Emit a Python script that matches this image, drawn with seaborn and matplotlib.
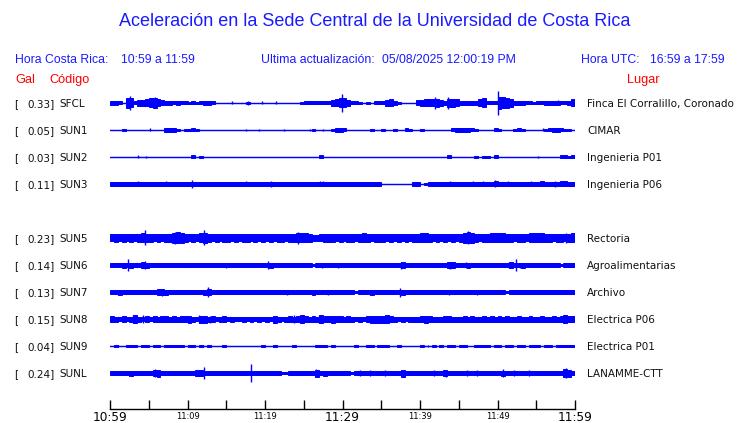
import numpy as np
import matplotlib
matplotlib.use("Agg")
import matplotlib.pyplot as plt
import matplotlib.transforms as mtransforms
import seaborn as sns

# ---------------- data ----------------
codes = ["SFCL", "SUN1", "SUN2", "SUN3", "SUN5", "SUN6", "SUN7", "SUN8", "SUN9", "SUNL"]
gal = [0.33, 0.05, 0.03, 0.11, 0.23, 0.14, 0.13, 0.15, 0.04, 0.24]
places = ["Finca El Corralillo, Coronado", "CIMAR", "Ingenieria P01", "Ingenieria P06",
          "Rectoria", "Agroalimentarias", "Archivo", "Electrica P06", "Electrica P01",
          "LANAMME-CTT"]
row_slot = [0, 1, 2, 3, 5, 6, 7, 8, 9, 10]

tick_minutes = [0, 5, 10, 15, 20, 25, 30, 35, 40, 45, 50, 55, 60]
tick_labels = ["10:59", "", "11:09", "", "11:19", "", "11:29", "", "11:39", "", "11:49", "", "11:59"]
big_labels = ["10:59", "11:29", "11:59"]

# envelope half-heights (px) per 30 s, 10:59 -> 11:59 (120 samples)
env_SFCL = [2, 2, 1.5, 0.5, 5, 4.5, 1.5, 3, 3, 3.5,
            4.5, 5, 3.5, 2.5, 2, 2, 1.5, 2, 1.5, 1.5,
            1, 1.5, 1, 1.5, 2, 2, 1.5, 0.5, 0.5, 0.5,
            0.5, 0.5, 0.5, 0.5, 0.5, 1, 0.5, 0.5, 0.5, 0.5,
            0.5, 0.5, 0.5, 0.5, 0.5, 0.5, 0.5, 0.5, 0.5, 1,
            1.5, 1.5, 1.5, 1.5, 1.5, 1.5, 1.5, 3, 3.5, 4.5,
            4.5, 3, 1.5, 1.5, 1, 0.5, 1, 0.5, 1.5, 1.5,
            1.5, 3, 3.5, 2, 1, 0.5, 0.5, 0.5, 0.5, 2.5,
            3, 3.5, 3.5, 3.5, 4, 3, 2, 4, 4, 3.5,
            2, 2, 2, 2, 2, 3.5, 4.5, 1.5, 1.5, 1.5,
            6, 5.5, 5, 4, 2, 2, 2, 1.5, 1.5, 1,
            1.5, 1.5, 2, 2, 2, 2, 1.5, 1.5, 2, 3.5]
env_SUN1 = [0.5, 0.5, 0.5, 1, 0.5, 0.5, 0.5, 0.5, 0.5, 0.5,
            0.5, 0.5, 0.5, 0.5, 2.3, 2.3, 2.3, 1, 0.5, 1,
            1, 1.5, 1, 0.5, 0.5, 0.5, 0.5, 0.5, 0.5, 0.5,
            0.5, 0.5, 0.5, 0.5, 0.5, 0.5, 0.5, 0.5, 0.5, 0.5,
            0.5, 0.5, 0.5, 0.5, 0.5, 0.5, 0.5, 0.5, 0.5, 0.5,
            0.5, 0.5, 1, 0.5, 0.5, 0.5, 0.5, 1, 2, 2,
            1.5, 0.5, 0.5, 0.5, 0.5, 0.5, 0.5, 1, 0.5, 0.5,
            1, 0.5, 0.5, 1, 0.5, 0.5, 1.5, 1, 0.5, 0.5,
            1, 0.5, 0.5, 0.5, 0.5, 0.5, 0.5, 0.5, 1.5, 2,
            2, 2, 2, 1.5, 1, 0.5, 0.5, 0.5, 0.5, 1.5,
            1, 0.5, 0.5, 0.5, 1, 1.5, 1, 0.5, 0.5, 0.5,
            0.5, 0.5, 1, 1.5, 2, 2, 1.5, 1, 1, 0.5]
env_SUN2 = [0.5, 0.5, 0.5, 0.5, 0.5, 0.5, 0.5, 0.5, 0.5, 0.5,
            0.5, 0.5, 0.5, 0.5, 0.5, 0.5, 0.5, 0.5, 0.5, 0.5,
            0.5, 1.5, 0.5, 1, 0.5, 0.5, 0.5, 0.5, 0.5, 0.5,
            0.5, 0.5, 0.5, 0.5, 0.5, 0.5, 0.5, 0.5, 0.5, 0.5,
            0.5, 0.5, 0.5, 0.5, 0.5, 0.5, 0.5, 0.5, 0.5, 0.5,
            0.5, 0.5, 0.5, 0.5, 1.5, 0.5, 0.5, 0.5, 0.5, 0.5,
            0.5, 0.5, 0.5, 0.5, 0.5, 0.5, 0.5, 0.5, 0.5, 0.5,
            0.5, 0.5, 0.5, 0.5, 0.5, 0.5, 0.5, 0.5, 0.5, 0.5,
            0.5, 0.5, 0.5, 0.5, 0.5, 0.5, 0.5, 1.5, 0.5, 0.5,
            0.5, 0.5, 0.5, 0.5, 1, 0.5, 1, 1, 0.5, 1.5,
            0.5, 0.5, 0.5, 0.5, 0.5, 0.5, 0.5, 0.5, 0.5, 0.5,
            0.5, 0.5, 0.5, 0.5, 0.5, 0.5, 1.5, 1.5, 1, 1.5]
env_SUN3 = [1.7, 1.7, 1.7, 1.7, 1.7, 1.7, 1.7, 1.7, 1.7, 1.7,
            1.7, 1.7, 1.7, 1.7, 1.7, 1.7, 1.7, 1.7, 1.7, 1.7,
            1.7, 1.7, 1.7, 1.7, 1.7, 1.7, 1.7, 1.7, 1.7, 1.7,
            1.7, 1.7, 1.7, 1.7, 1.7, 1.7, 1.7, 1.7, 1.7, 1.7,
            1.7, 1.7, 1.7, 1.7, 1.7, 1.7, 1.7, 1.7, 1.7, 1.7,
            1.7, 1.7, 1.7, 1.7, 1.7, 1.7, 1.7, 1.7, 1.7, 1.7,
            1.7, 1.7, 1.7, 1.7, 1.7, 1.7, 1.7, 1.7, 1.7, 1.7,
            0.5, 0.5, 0.5, 0.5, 0.5, 0.5, 0.5, 0.5, 1.7, 1.7,
            0.5, 1.2, 1.7, 1.7, 1.7, 1.7, 1.7, 1.7, 1.7, 1.7,
            1.7, 1.7, 1.7, 1.7, 1.7, 1.7, 1.7, 1.7, 1.7, 2.5,
            1.7, 1.7, 1.7, 1.7, 1.7, 1.7, 1.7, 1.7, 1.7, 1.7,
            1.7, 2.5, 1.7, 1.7, 1.7, 1.7, 2.5, 2.5, 1.7, 2]
env_SUN5 = [3.5, 4, 3.5, 4, 3.5, 4, 3.5, 4, 4.5, 4,
            4, 3.5, 4, 3.5, 4, 4, 5, 5.5, 5, 4,
            3.5, 4, 3.5, 4.5, 5, 4, 3.5, 4, 3.5, 4,
            4, 3.5, 4, 3.5, 4, 4, 3.5, 4, 3.5, 4,
            3.5, 4, 3.5, 4, 4, 3.5, 4, 4, 4.5, 4.5,
            4.5, 4, 3, 3, 3.5, 4, 4, 4, 3.5, 4,
            3.5, 4, 4, 3.5, 4, 4.5, 4, 3.5, 4, 4,
            4, 3.5, 4, 3.5, 4, 3.5, 4, 3.5, 4, 4,
            4.5, 4.5, 4, 3.5, 4, 3.5, 4, 3.5, 4, 3.5,
            4, 5, 5.5, 5, 4, 3.5, 4, 4, 4.5, 4.5,
            4.5, 4.5, 4, 4, 3.5, 4, 4, 3.5, 4.5, 4.5,
            4.5, 4.5, 4, 4, 3.5, 4, 4, 3.5, 4, 4.5]
env_SUN6 = [1.7, 1.7, 1.7, 2.5, 1.7, 2.5, 1.7, 1.7, 3, 2.5,
            1.7, 1.7, 1.7, 1.7, 1.7, 1.7, 2, 1.7, 1.7, 1.7,
            2, 1.7, 1.7, 1.7, 1.7, 1.7, 1.7, 1.7, 1.7, 2,
            1.7, 1.7, 1.7, 1.7, 1.7, 1.7, 1.7, 2, 1.7, 1.7,
            1.7, 2.5, 1.7, 1.7, 1.7, 1.7, 1.7, 1.7, 1.7, 1.7,
            1.7, 1.7, 1.2, 1.7, 2, 1.7, 1.7, 1.7, 1.7, 2,
            1.7, 2, 1.7, 1.7, 1.7, 1.7, 1.7, 2, 1.7, 1.7,
            1.7, 1.7, 1.7, 1.7, 1.7, 3, 1.7, 1.7, 1.7, 2,
            2, 1.7, 1.7, 1.7, 1.7, 1.7, 1.7, 3, 3, 1.7,
            1.7, 1.7, 2.5, 1.7, 1.7, 2, 1.7, 1.7, 1.7, 1.7,
            1.7, 1.7, 1.7, 3, 1.7, 2, 2.5, 1.7, 1.7, 1.7,
            1.7, 1.7, 1.7, 1.7, 1.7, 1.7, 1.2, 1.7, 1.7, 1.7]
env_SUN7 = [1.7, 1.7, 2.5, 1.7, 1.7, 1.7, 1.7, 1.7, 1.7, 1.7,
            1.7, 1.7, 3, 3, 2.5, 1.7, 1.7, 1.7, 1.7, 1.7,
            2, 1.7, 1.7, 1.7, 2.5, 3, 1.7, 1.7, 1.7, 2,
            1.7, 1.7, 1.7, 1.7, 1.7, 1.7, 1.7, 1.7, 1.7, 1.7,
            1.7, 1.7, 1.7, 1.7, 1.7, 1.7, 1.7, 1.7, 1.7, 1.7,
            2, 2, 2.5, 2, 1.7, 1.7, 2, 1.7, 1.7, 1.7,
            1.7, 1.7, 1.7, 1.2, 1.7, 1.7, 1.7, 2.5, 2, 1.7,
            2, 2, 1.7, 1.7, 1.7, 2.5, 2, 1.7, 1.7, 1.7,
            1.7, 1.7, 2, 1.7, 1.7, 1.7, 1.7, 1.7, 2, 1.7,
            1.7, 1.7, 1.7, 1.7, 1.7, 2, 1.7, 2, 2, 1.7,
            1.7, 1.7, 1.2, 1.7, 1.7, 1.7, 1.7, 1.7, 1.7, 1.7,
            1.7, 1.7, 1.7, 1.7, 1.7, 1.7, 1.7, 1.7, 1.7, 1.7]
env_SUN8 = [3, 2.5, 2.3, 3, 2.3, 2.5, 4, 2.5, 2.3, 3,
            2.3, 3, 2.5, 3, 3, 2.5, 3, 2.5, 3, 3,
            3.5, 2.5, 2.3, 3.5, 3.5, 2.5, 3, 2.3, 2.5, 3,
            2.3, 2.5, 2.3, 2.3, 2.5, 2.3, 2.5, 2.3, 2.5, 2.3,
            2.5, 2.3, 3.5, 2.5, 2.3, 2.5, 3, 2.5, 3, 4,
            3, 2.5, 3, 2.5, 4, 3, 3, 3.5, 3, 3,
            2.5, 3, 2.5, 2.3, 2.5, 2.3, 3, 3.5, 3.5, 3.5,
            3.5, 4, 3, 2.5, 2.3, 2.5, 2.3, 2.5, 2.5, 2.5,
            3, 3.5, 3, 2.5, 2.5, 2.5, 3, 3, 2.5, 2.5,
            2.5, 3, 2.5, 3, 2.5, 2.5, 3, 2.5, 3, 2.5,
            3, 2.5, 3, 2.5, 2.5, 3, 2.5, 2.5, 3, 2.5,
            2.5, 3, 2.5, 2.5, 3, 2.5, 3, 4, 3, 3]
env_SUN9 = [0.5, 1, 0.5, 0.5, 1, 1, 1, 0.5, 1, 1.3,
            0.5, 1, 1, 0.5, 1.3, 1.3, 1, 1, 1, 0.5,
            1, 1, 0.5, 1, 0.5, 1, 0.5, 0.5, 0.5, 1,
            0.5, 0.5, 0.5, 0.5, 0.5, 0.5, 0.5, 0.5, 0.5, 1,
            0.5, 0.5, 1.3, 0.5, 0.5, 0.5, 0.5, 1, 0.5, 0.5,
            0.5, 0.5, 0.5, 1.3, 1.3, 1.3, 0.5, 1, 0.5, 0.5,
            0.5, 0.5, 0.5, 1, 0.5, 0.5, 1, 1, 0.5, 1,
            1, 1, 0.5, 0.5, 1, 0.5, 0.5, 0.5, 0.5, 0.5,
            1.3, 0.5, 0.5, 1, 0.5, 1, 0.5, 1, 1, 0.5,
            1, 1, 0.5, 0.5, 1.3, 1.3, 1, 1, 0.5, 1,
            1, 0.5, 1, 1, 0.5, 1, 1, 0.5, 1, 1,
            1, 0.5, 1, 1, 0.5, 1, 1, 1.3, 1.3, 1.3]
env_SUNL = [1.7, 1.7, 1.7, 1.7, 1.7, 2.5, 2, 1.7, 1.7, 1.7,
            1.7, 3, 3.5, 1.7, 2, 1.7, 2, 1.7, 1.7, 1.7,
            1.7, 1.7, 3, 3, 2, 1.7, 1.7, 1.7, 1.7, 1.7,
            1.7, 1.7, 1.7, 1.7, 1.7, 1.7, 1.7, 1.7, 2, 2,
            1.7, 1.7, 1.7, 1.7, 1.2, 1.2, 1.7, 1.7, 1.7, 1.7,
            1.7, 1.7, 1.7, 3.5, 1.7, 2.5, 1.7, 1.7, 1.7, 1.7,
            1.7, 1.7, 1.2, 1.7, 1.7, 1.7, 1.7, 1.7, 1.7, 1.7,
            1.7, 1.7, 1.7, 1.7, 1.7, 3.5, 1.7, 1.7, 1.7, 1.7,
            1.7, 1.7, 1.7, 1.7, 1.7, 1.7, 3, 1.7, 1.7, 1.7,
            1.7, 1.7, 1.7, 1.7, 1.7, 1.7, 1.7, 2, 1.7, 1.7,
            1.7, 2.5, 1.7, 1.7, 1.7, 1.7, 1.7, 1.7, 1.7, 1.7,
            1.7, 1.7, 1.7, 1.7, 1.7, 1.7, 1.7, 4, 3.5, 1.7]

# isolated peaks: minute after 10:59 and half-height (px)
spk_SFCL_t = [2.6, 5.8, 15.7, 17.8, 19.6, 21.4, 29.9, 41.9, 43.6, 50.1, 57.8]
spk_SFCL_a = [6.7, 5.5, 1.5, 2, 1.5, 1.5, 8.7, 6, 6, 12, 2.5]
spk_SUN1_t = [5.2, 17.5, 19.2, 22.5, 25.8, 27.5, 33.7, 35.2, 40.0, 47.0, 55.9]
spk_SUN1_a = [1.5, 1, 1, 1, 1, 1, 1, 1, 1, 1, 1.5]
spk_SUN2_t = [3.6, 4.6, 47.2, 55.2]
spk_SUN2_a = [1.5, 1, 1, 1]
spk_SUN3_t = [3.6, 7.2, 10.6, 17.5, 20.8, 27.1, 27.5, 43.9, 46.8, 48.1, 49.7, 51.4, 54.3, 57.4]
spk_SUN3_a = [2.5, 2.5, 4.2, 2.5, 3, 2.5, 2.5, 2.5, 2.5, 2.5, 3.5, 2.5, 2.5, 3]
spk_SUN5_t = [4.5, 8.4, 12.1, 24.3, 46.2, 58.8]
spk_SUN5_a = [7.5, 6, 7.5, 6, 6.5, 5]
spk_SUN6_t = [2.3, 4.5, 15.0, 20.4, 27.4, 29.4, 37.5, 43.9, 45.9, 51.5, 52.4, 52.9]
spk_SUN6_a = [6, 4, 2.5, 4, 2.5, 2.5, 3.5, 3.5, 3, 3, 6, 2.5]
spk_SUN7_t = [1.0, 6.7, 12.6, 14.5, 22.8, 28.1, 33.5, 37.4, 43.7, 47.4, 53.7, 57.5]
spk_SUN7_a = [2.5, 3.5, 5.3, 2, 2.5, 2.5, 2.5, 4.5, 2.5, 2.5, 2, 2]
spk_SUN8_t = [3.0, 4.3, 11.5, 12.9, 23.7, 27.0, 35.9, 58.6]
spk_SUN8_a = [4.5, 4, 4, 3.5, 4, 4.5, 3.5, 4.5]
spk_SUN9_t = [1.0, 12.0, 41.0]
spk_SUN9_a = [1.2, 1.2, 1.2]
spk_SUNL_t = [5.8, 12.1, 18.2, 26.6, 32.3, 33.5, 35.5, 37.7, 41.8, 43.4, 46.1, 47.4, 50.7, 52.1, 54.1, 58.8]
spk_SUNL_a = [4, 5.8, 9.5, 4, 2.5, 2.5, 2.5, 3.5, 2.5, 3.5, 2.5, 2.5, 4, 2.5, 2.5, 5]

envelopes = {"SFCL": env_SFCL, "SUN1": env_SUN1, "SUN2": env_SUN2, "SUN3": env_SUN3,
             "SUN5": env_SUN5, "SUN6": env_SUN6, "SUN7": env_SUN7, "SUN8": env_SUN8,
             "SUN9": env_SUN9, "SUNL": env_SUNL}
spikes = {"SFCL": (spk_SFCL_t, spk_SFCL_a), "SUN1": (spk_SUN1_t, spk_SUN1_a),
          "SUN2": (spk_SUN2_t, spk_SUN2_a), "SUN3": (spk_SUN3_t, spk_SUN3_a),
          "SUN5": (spk_SUN5_t, spk_SUN5_a), "SUN6": (spk_SUN6_t, spk_SUN6_a),
          "SUN7": (spk_SUN7_t, spk_SUN7_a), "SUN8": (spk_SUN8_t, spk_SUN8_a),
          "SUN9": (spk_SUN9_t, spk_SUN9_a), "SUNL": (spk_SUNL_t, spk_SUNL_a)}

# ---------------- style ----------------
sns.set_theme(style="white")
plt.rcParams["font.family"] = ["DejaVu Sans"]

BLUE = "#0000ff"
HEAD = "#1a1aff"
RED = "#ff0000"
W, H = 740, 423
ROW_PX = 27.0

fig = plt.figure(figsize=(W / 100, H / 100), dpi=100)
fig.patch.set_facecolor("white")
ax = fig.add_axes([110 / W, 1 - 409 / H, 465 / W, 321 / H])
ax.set_facecolor("white")

for k, code in enumerate(codes):
    y0 = -row_slot[k]
    sns.lineplot(x=[0, 60], y=[y0, y0], ax=ax, color=BLUE, lw=1.05)
    env = np.asarray(envelopes[code], dtype=float)
    t0 = np.arange(len(env)) * 0.5
    m = env > 0.6
    h = env[m] / ROW_PX
    ax.bar(t0[m], 2 * h, bottom=y0 - h, width=0.5, align="edge",
           color=BLUE, edgecolor=BLUE, linewidth=0.7)
    st, sa = spikes[code]
    sa = np.asarray(sa, dtype=float) / ROW_PX
    ax.vlines(st, y0 - sa, y0 + sa, color=BLUE, lw=1.0)

ax.set_xlim(0, 60)
ax.set_ylim(-(409 - 103) / ROW_PX, 15 / ROW_PX)
for s in ["top", "left", "right"]:
    ax.spines[s].set_visible(False)
ax.spines["bottom"].set_color("black")
ax.spines["bottom"].set_linewidth(1.0)
ax.set_yticks([])
ax.set_xticks(tick_minutes)
ax.set_xticklabels([""] * len(tick_minutes))
ax.tick_params(axis="x", direction="in", length=6.5, width=1.0, color="black", bottom=True)
ax.set_xlabel("")
ax.set_ylabel("")

# time labels under the axis (x in data minutes, y in figure pixels)
tblend = mtransforms.blended_transform_factory(ax.transData, fig.transFigure)
for tm, txt in zip(tick_minutes, tick_labels):
    if not txt:
        continue
    if txt in big_labels:
        ax.text(tm, 1 - 421 / H, txt, ha="center", va="baseline", fontsize=8.7,
                color="black", transform=tblend, clip_on=False)
    else:
        ax.text(tm, 1 - 418.5 / H, txt, ha="center", va="baseline", fontsize=6,
                color="black", transform=tblend, clip_on=False)

# ---------------- texts ----------------
def fx(px):
    return px / W

def fy(py):
    return 1 - py / H

fig.text(fx(375), fy(22), "Aceleración en la Sede Central de la Universidad de Costa Rica",
         ha="center", va="center", color=HEAD, fontsize=13, family="Liberation Sans")
hdr = dict(va="center", color=HEAD, fontsize=8.8, family="Liberation Sans")
fig.text(fx(15), fy(60), "Hora Costa Rica:", ha="left", **hdr)
fig.text(fx(121), fy(60), "10:59 a 11:59", ha="left", **hdr)
fig.text(fx(261), fy(60), "Ultima actualización:", ha="left", **hdr)
fig.text(fx(382), fy(60), "05/08/2025 12:00:19 PM", ha="left", **hdr)
fig.text(fx(581), fy(60), "Hora UTC:", ha="left", **hdr)
fig.text(fx(725), fy(60), "16:59 a 17:59", ha="right", **hdr)
red = dict(va="center", color=RED, fontsize=9.2, family="Liberation Sans")
fig.text(fx(15), fy(80), "Gal", ha="left", **red)
fig.text(fx(90), fy(80), "Código", ha="right", **red)
fig.text(fx(660), fy(80), "Lugar", ha="right", **red)

blend = mtransforms.blended_transform_factory(fig.transFigure, ax.transData)
lab = dict(va="center_baseline", color="#111111", fontsize=7.5, family="DejaVu Sans")
for k, code in enumerate(codes):
    y0 = -row_slot[k]
    ax.text(fx(14), y0, "[", ha="left", transform=blend, **lab)
    ax.text(fx(55), y0, f"{gal[k]:.2f}]", ha="right", transform=blend, **lab)
    ax.text(fx(59), y0, code, ha="left", transform=blend, **lab)
    ax.text(fx(587), y0, places[k], ha="left", transform=blend, **lab)

fig.savefig("out.png", dpi=100, facecolor="white")
